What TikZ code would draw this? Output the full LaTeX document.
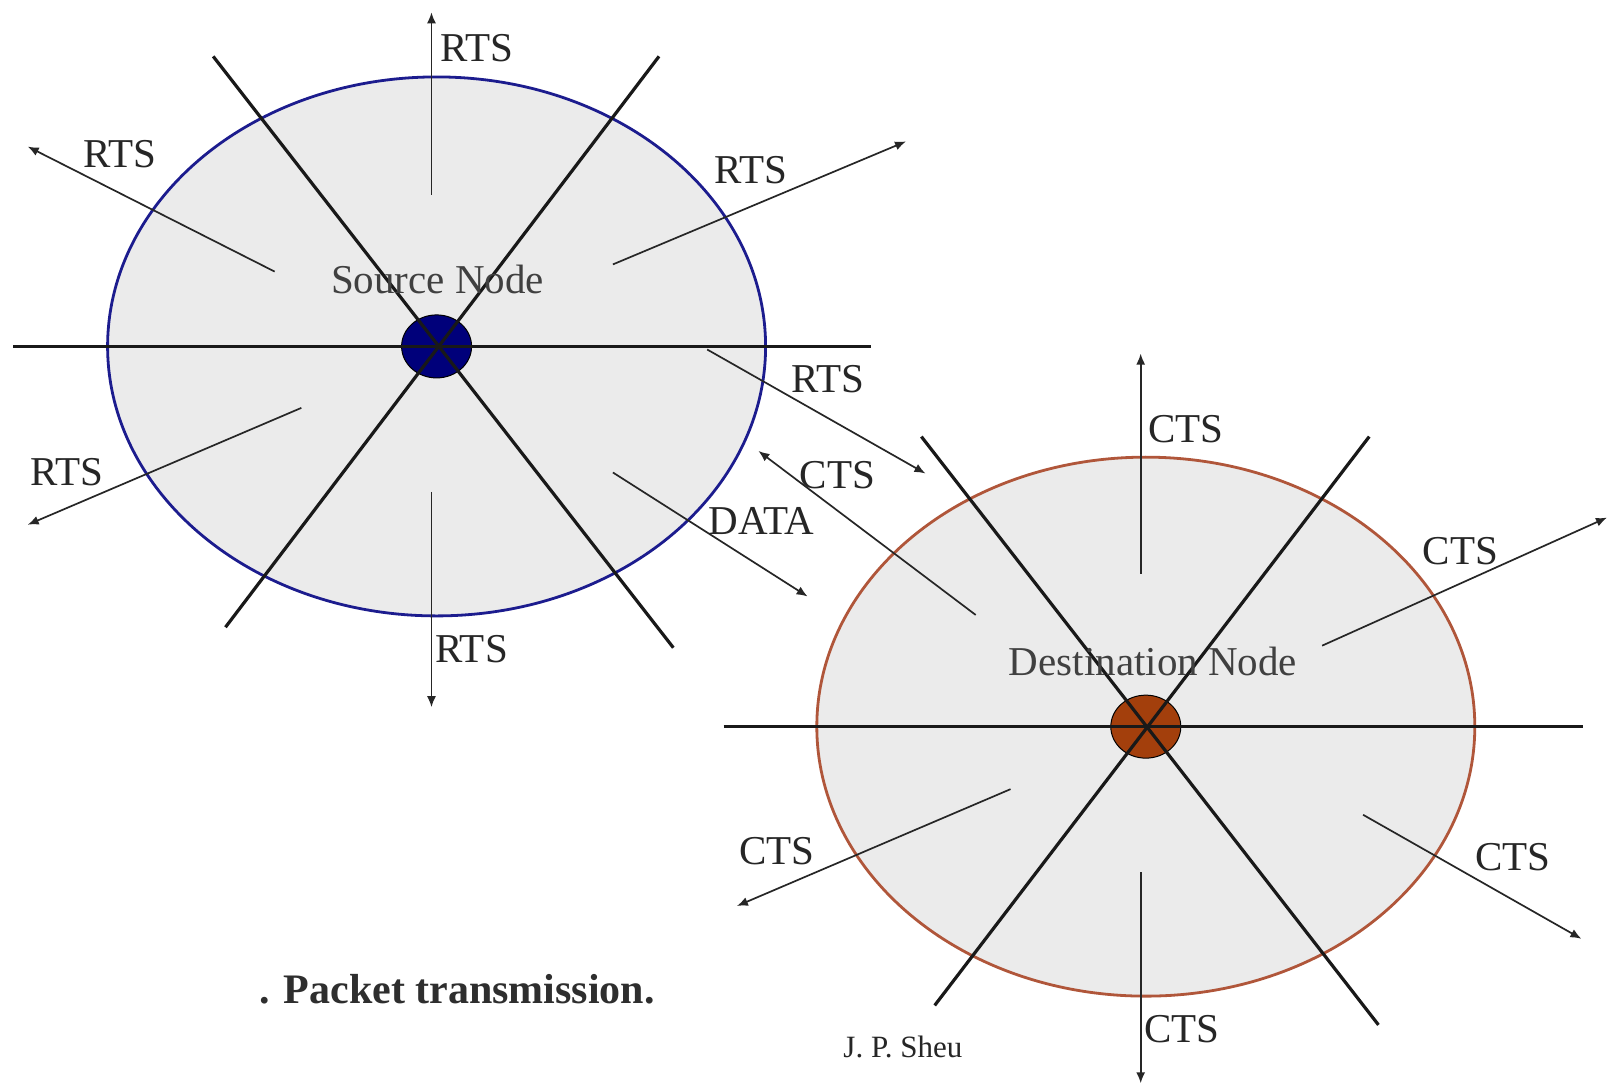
\documentclass[tikz,border=0pt]{standalone}
\usepackage{fontspec}
\setmainfont{Liberation Serif}
\usetikzlibrary{shapes.geometric,arrows.meta}
\definecolor{areagray}{HTML}{EBEBEB}
\definecolor{srcblue}{HTML}{1C1C8E}
\definecolor{srchub}{HTML}{00007A}
\definecolor{dstbrown}{HTML}{B0563A}
\definecolor{dsthub}{HTML}{A33F0C}
\begin{document}
\begin{tikzpicture}[x=1.0249pt,y=-1.0249pt,
  area/.style={ellipse,line width=2.8pt,fill=areagray,minimum width=658pt,minimum height=539pt,inner sep=0pt},
  hub/.style={ellipse,draw=black,line width=1pt,minimum width=70pt,minimum height=63pt,inner sep=0pt},
  spoke/.style={line width=3.2pt,black!90},
  msg/.style={line width=1.7pt,black!85,-{Latex[length=11pt,width=9pt]}},
  lbl/.style={font=\fontsize{41}{44}\selectfont,text=black!85,inner sep=0pt},
  note/.style={font=\fontsize{41}{44}\selectfont,text=black!75,inner sep=0pt},
]
\useasboundingbox[fill=white] (0,0) rectangle (1568,1062);

% coverage areas
\node[area,draw=srcblue] (srcarea) at (426,338) {};
\node[area,draw=dstbrown] (dstarea) at (1118,709) {};

% the two stations
\node[hub,fill=srchub] (src) at (426,338) {};
\node[hub,fill=dsthub] (dst) at (1118,709) {};

% spoke end points of the source
\coordinate (s1a) at (13,338);  \coordinate (s1b) at (850,338);
\coordinate (s2a) at (208,55);  \coordinate (s2b) at (657,632);
\coordinate (s3a) at (643,55);  \coordinate (s3b) at (220,612);
% spoke end points of the destination
\coordinate (d1a) at (706,709);  \coordinate (d1b) at (1545,709);
\coordinate (d2a) at (899,426);  \coordinate (d2b) at (1345,1000);
\coordinate (d3a) at (1336,426); \coordinate (d3b) at (912,981);

\draw[spoke] (s1a) -- (s1b);
\draw[spoke] (s2a) -- (s2b);
\draw[spoke] (s3a) -- (s3b);
\draw[spoke] (d1a) -- (d1b);
\draw[spoke] (d2a) -- (d2b);
\draw[spoke] (d3a) -- (d3b);

% RTS broadcast from the source
\coordinate (r1a) at (421,190); \coordinate (r1b) at (421,12);
\coordinate (r2a) at (421,480); \coordinate (r2b) at (421,690);
\coordinate (r3a) at (268,265); \coordinate (r3b) at (27,143);
\coordinate (r4a) at (598,258); \coordinate (r4b) at (884,138);
\coordinate (r5a) at (294,398); \coordinate (r5b) at (27,512);
\coordinate (r6a) at (690,341); \coordinate (r6b) at (903,462);
% CTS reply and DATA
\coordinate (c0a) at (952,600); \coordinate (c0b) at (740,440);
\coordinate (daa) at (598,461); \coordinate (dab) at (788,582);
% CTS broadcast from the destination
\coordinate (c1a) at (1113,560); \coordinate (c1b) at (1113,345);
\coordinate (c2a) at (1113,851); \coordinate (c2b) at (1113,1057);
\coordinate (c3a) at (1290,630); \coordinate (c3b) at (1568,505);
\coordinate (c4a) at (986,770);  \coordinate (c4b) at (719,884);
\coordinate (c5a) at (1330,795); \coordinate (c5b) at (1543,916);

\foreach \p in {r1,r2,r3,r4,r5,r6,c0,c1,c2,c3,c4,c5}
  \draw[msg] (\p a) -- (\p b);
\draw[msg] (daa) -- (dab);

% message labels
\node[lbl] (l1) at (465,47)  {RTS};
\node[lbl] (l2) at (460,633) {RTS};
\node[lbl] (l3) at (117,150) {RTS};
\node[lbl] (l4) at (733,166) {RTS};
\node[lbl] (l5) at (65,461)  {RTS};
\node[lbl] (l6) at (808,370) {RTS};
\node[lbl] (l7) at (817,464) {CTS};
\node[lbl] (l8) at (743,508) {DATA};
\node[lbl] (m1) at (1157,419) {CTS};
\node[lbl] (m2) at (1153,1004) {CTS};
\node[lbl] (m3) at (1425,538) {CTS};
\node[lbl] (m4) at (758,830) {CTS};
\node[lbl] (m5) at (1476,836) {CTS};

% station names
\node[note] (srcname) at (427,273) {Source Node};
\node[note] (dstname) at (1125,645) {Destination Node};

% caption and credit
\node[font=\bfseries\fontsize{42}{45}\selectfont,text=black!82,inner sep=0pt] (caption) at (446,965) {. Packet transmission.};
\node[font=\fontsize{31}{34}\selectfont,text=black!85,inner sep=0pt] (credit) at (881,1022) {J. P. Sheu};
\end{tikzpicture}
\end{document}
